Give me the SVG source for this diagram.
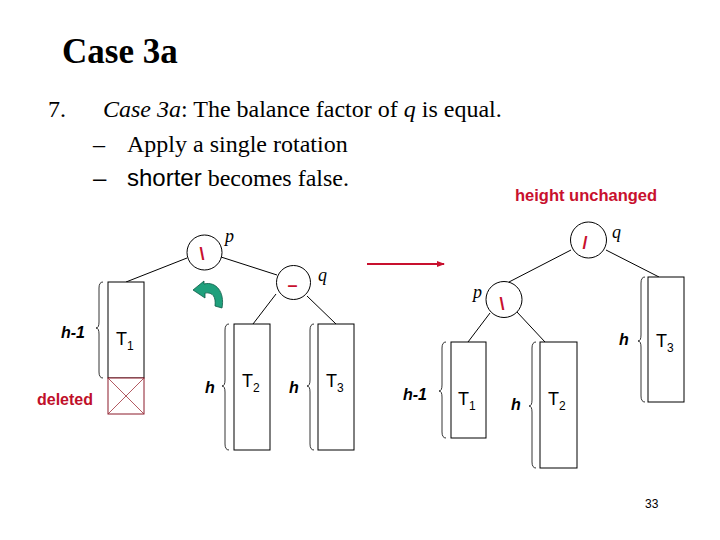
<svg xmlns="http://www.w3.org/2000/svg" width="720" height="540" viewBox="0 0 720 540">
<style>
.serif{font-family:"Liberation Serif","Times New Roman",serif;fill:#000}
.sans{font-family:"Liberation Sans",Arial,sans-serif;fill:#000}
.lbl{font-family:"Liberation Sans",Arial,sans-serif;font-size:16px;font-weight:bold;font-style:italic;fill:#000}
.tn{font-family:"Liberation Sans",Arial,sans-serif;font-size:18px;fill:#000}
.tsub{font-size:12px}
.pq{font-family:"Liberation Serif","Times New Roman",serif;font-size:18px;font-style:italic;fill:#000}
.bf{font-family:"Liberation Sans",Arial,sans-serif;font-size:18px;font-weight:bold;fill:#c8102e;text-anchor:middle}
.node{fill:#fff;stroke:#000;stroke-width:1}
.tree{fill:#fff;stroke:#000;stroke-width:1}
.brace{fill:none;stroke:#000;stroke-width:0.8}
.edge{stroke:#000;stroke-width:1;fill:none}
</style>
<defs>
<marker id="ah" markerWidth="8" markerHeight="6" refX="7" refY="3" orient="auto" markerUnits="userSpaceOnUse">
<path d="M0,0 L8,3 L0,6 Z" fill="#c8102e"/>
</marker>
</defs>

<g id="title">
<text class="serif" x="62" y="63" font-size="35" font-weight="bold">Case 3a</text>
</g>
<g id="bullets">
<text class="serif" x="48" y="117" font-size="24">7.</text>
<text class="serif" x="103" y="117" font-size="24"><tspan font-style="italic">Case 3a</tspan>: The balance factor of <tspan font-style="italic">q</tspan> is equal.</text>
<text class="serif" x="93" y="152" font-size="24">–</text>
<text class="serif" x="127" y="152" font-size="24">Apply a single rotation</text>
<text class="sans" x="93" y="186" font-size="24">–</text>
<text class="serif" x="127" y="186" font-size="24"><tspan class="sans">shorter</tspan> becomes false.</text>
</g>
<g id="height-unchanged">
<text class="sans" x="515" y="201" font-size="16.5" font-weight="bold" style="fill:#c8102e">height unchanged</text>
</g>

<g id="connectors">
<line class="edge" x1="187" y1="258" x2="126" y2="282"/>
<line class="edge" x1="221" y1="257" x2="277" y2="275"/>
<line class="edge" x1="276" y1="294" x2="253" y2="324"/>
<line class="edge" x1="307" y1="296" x2="336" y2="324"/>
<line class="edge" x1="571" y1="250" x2="509" y2="282"/>
<line class="edge" x1="606" y1="250" x2="659" y2="277"/>
<line class="edge" x1="490" y1="313" x2="468" y2="342"/>
<line class="edge" x1="517" y1="312" x2="545" y2="342"/>
<line x1="367" y1="264" x2="444" y2="264" stroke="#c8102e" stroke-width="1.8" marker-end="url(#ah)"/>
</g>

<g id="left-p">
<circle class="node" cx="204.5" cy="252.5" r="17.5"/>
<text class="bf" x="202" y="260">\</text>
<text class="pq" x="225" y="242">p</text>
</g>
<g id="left-q">
<circle class="node" cx="293.5" cy="282.5" r="17"/>
<text class="bf" x="292.5" y="291" font-size="16">–</text>
<text class="pq" x="318" y="281">q</text>
</g>
<g id="rotate-arrow">
<path d="M193 290 L204 281 L204 284 C216 281 225 292 222 308 L215 306 C216 297 213 292 205 293 L205 298 Z" fill="#1fa07c" stroke="#0b5a45" stroke-width="0.8"/>
</g>
<g id="left-T1">
<rect class="tree" x="108" y="282" width="36" height="96"/>
<text class="tn" x="116" y="345">T<tspan class="tsub" dy="5">1</tspan></text>
<path class="brace" d="M103 282 Q99 282 99 288 L99 322 Q99 328 96 328 Q99 328 99 334 L99 372 Q99 378 103 378"/>
<text class="lbl" x="61" y="338">h-1</text>
</g>
<g id="left-deleted">
<rect x="108" y="378" width="36" height="36" fill="#fff" stroke="#8b1a2a" stroke-width="1"/>
<line x1="108" y1="378" x2="144" y2="414" stroke="#a0303a" stroke-width="0.8"/>
<line x1="144" y1="378" x2="108" y2="414" stroke="#a0303a" stroke-width="0.8"/>
<text class="sans" x="37" y="405" font-size="16" font-weight="bold" style="fill:#c0102a">deleted</text>
</g>
<g id="left-T2">
<rect class="tree" x="234" y="324" width="36" height="126"/>
<text class="tn" x="242" y="387">T<tspan class="tsub" dy="5">2</tspan></text>
<path class="brace" d="M229 324 Q225 324 225 330 L225 380 Q225 386 222 386 Q225 386 225 392 L225 444 Q225 450 229 450"/>
<text class="lbl" x="205" y="393">h</text>
</g>
<g id="left-T3">
<rect class="tree" x="318" y="324" width="36" height="126"/>
<text class="tn" x="326" y="387">T<tspan class="tsub" dy="5">3</tspan></text>
<path class="brace" d="M314 324 Q310 324 310 330 L310 380 Q310 386 307 386 Q310 386 310 392 L310 444 Q310 450 314 450"/>
<text class="lbl" x="289" y="393">h</text>
</g>

<g id="right-q">
<circle class="node" cx="588.5" cy="240" r="18"/>
<text class="bf" x="585" y="249">/</text>
<text class="pq" x="612" y="238">q</text>
</g>
<g id="right-p">
<circle class="node" cx="504" cy="299.5" r="18"/>
<text class="bf" x="502" y="310">\</text>
<text class="pq" x="473" y="298">p</text>
</g>
<g id="right-T1">
<rect class="tree" x="451" y="342" width="35" height="96"/>
<text class="tn" x="458" y="405">T<tspan class="tsub" dy="5">1</tspan></text>
<path class="brace" d="M446 342 Q442 342 442 348 L442 385 Q442 391 439 391 Q442 391 442 397 L442 432 Q442 438 446 438"/>
<text class="lbl" x="403" y="400">h-1</text>
</g>
<g id="right-T2">
<rect class="tree" x="540" y="342" width="37" height="126"/>
<text class="tn" x="548" y="405">T<tspan class="tsub" dy="5">2</tspan></text>
<path class="brace" d="M536 342 Q532 342 532 348 L532 400 Q532 406 529 406 Q532 406 532 412 L532 462 Q532 468 536 468"/>
<text class="lbl" x="511" y="410">h</text>
</g>
<g id="right-T3">
<rect class="tree" x="648" y="277" width="36" height="125"/>
<text class="tn" x="656" y="347">T<tspan class="tsub" dy="5">3</tspan></text>
<path class="brace" d="M645 277 Q641 277 641 283 L641 335 Q641 341 638 341 Q641 341 641 347 L641 396 Q641 402 645 402"/>
<text class="lbl" x="619" y="345">h</text>
</g>

<g id="page-number">
<text class="sans" x="645" y="508" font-size="12">33</text>
</g>
</svg>
